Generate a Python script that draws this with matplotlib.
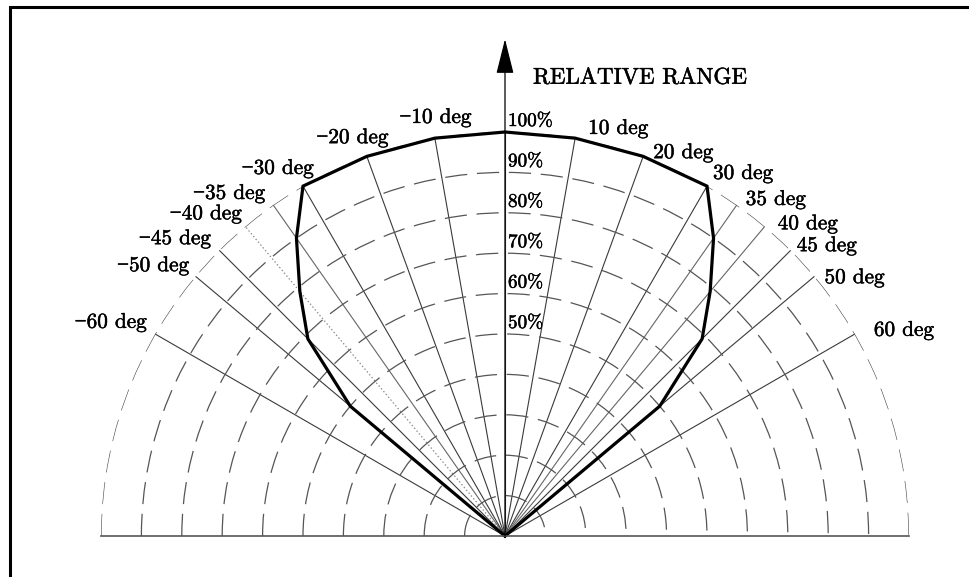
import matplotlib
matplotlib.use('Agg')
import matplotlib.pyplot as plt
import matplotlib.patheffects as pe
from matplotlib.patches import Rectangle
import numpy as np

# datos
radiales = [-60, -50, -45, -40, -35, -30, -20, -10, 0, 10, 20, 30, 35, 40, 45, 50, 60]
circulos = [10, 20, 30, 40, 50, 60, 70, 80, 90, 100]
porcentajes = [100, 90, 80, 70, 60, 50]

angulos_curva = [-50, -45, -40, -35, -30, -20, -10, 0, 10, 20, 30, 35, 40, 45, 50]
alcance = [50, 69, 79, 90, 100, 100, 100, 100, 100, 100, 100, 90, 79, 69, 50]

titulo = 'RELATIVE RANGE'

plt.rcParams['lines.scale_dashes'] = False
fuente = ['cmr10', 'Liberation Serif']
grueso = [pe.withStroke(linewidth=0.35, foreground='black')]   # texto un poco mas grueso

fig = plt.figure(figsize=(9.69, 5.77), dpi=100)
# ejes polares cuadrados: el semicirculo queda en la mitad central
ax = fig.add_axes([101 / 969, -161 / 577, 808 / 969, 808 / 577], projection='polar')
ax.set_theta_zero_location('N')
ax.set_theta_direction(-1)
ax.set_thetamin(-90)
ax.set_thetamax(90)
ax.set_ylim(0, 100)

# circulos punteados y radiales como rejilla
ax.set_rgrids(circulos, labels=[''] * len(circulos))
ax.set_thetagrids(radiales, labels=[''] * len(radiales))
ax.tick_params(length=0)
ax.grid(axis='y', color='#555555', lw=0.9, linestyle=(0, (16, 7)))
ax.grid(axis='x', color='#3a3a3a', lw=0.8, linestyle='-')
for g in ax.yaxis.get_gridlines():
    g.set_clip_on(False)
for a, g in zip(radiales, ax.xaxis.get_gridlines()):
    if a == -40:
        g.set_linestyle(':')
        g.set_color('#888888')
        g.set_linewidth(0.9)
    elif abs(a) in (35, 40):
        g.set_color('#666666')

ax.spines['polar'].set_visible(False)
ax.spines['inner'].set_visible(False)
for s in ['start', 'end']:
    ax.spines[s].set_color('#555555')
    ax.spines[s].set_linewidth(1.2)

# eje vertical con flecha
ax.annotate('', xy=(0, 123), xytext=(0, 0), annotation_clip=False,
            arrowprops=dict(arrowstyle='-|>,head_length=2.2,head_width=0.55',
                            color='black', lw=0.9, shrinkA=0, shrinkB=0,
                            mutation_scale=10))

# curva de alcance
th = np.radians([-50] + angulos_curva + [50])
rr = [0] + alcance + [0]
ax.plot(th, rr, color='black', lw=2.3, solid_joinstyle='miter', clip_on=False)

# etiquetas de porcentaje
for p in porcentajes:
    ax.annotate(str(p) + '%', xy=(0, p), xytext=(3, 11), textcoords='offset pixels',
                ha='left', va='center', fontsize=13.8, family=fuente, path_effects=grueso)

# etiquetas de angulo
desp = {10: (13, 10), 20: (10, 4), 30: (6, 13), 35: (9, 6), 40: (13, 3), 45: (6, 5),
        50: (10, -1), 60: (19, 4),
        -10: (37, 21), -20: (22, 19), -30: (11, 18), -35: (-8, 12), -40: (-3, 13),
        -45: (-8, 12), -50: (-6, 11), -60: (-8, 12)}
for a in radiales:
    if a == 0:
        continue
    if a > 0:
        txt = str(a) + ' deg'
        ha = 'left'
    else:
        txt = '\u2212' + str(-a) + ' deg'
        ha = 'right'
    ax.annotate(txt, xy=(np.radians(a), 100), xytext=desp[a], textcoords='offset pixels',
                ha=ha, va='center', fontsize=15.3, family=fuente, path_effects=grueso)

fig.text(533 / 969, 1 - 78 / 577, titulo, ha='left', va='center', fontsize=16.5,
         family=fuente, path_effects=grueso)

# marco
fig.patches.append(Rectangle((10 / 969, -0.2), 1.2, 1.2 - 7 / 577, transform=fig.transFigure,
                             fill=False, edgecolor='black', lw=2.2))

fig.savefig('out.png', dpi=100)
